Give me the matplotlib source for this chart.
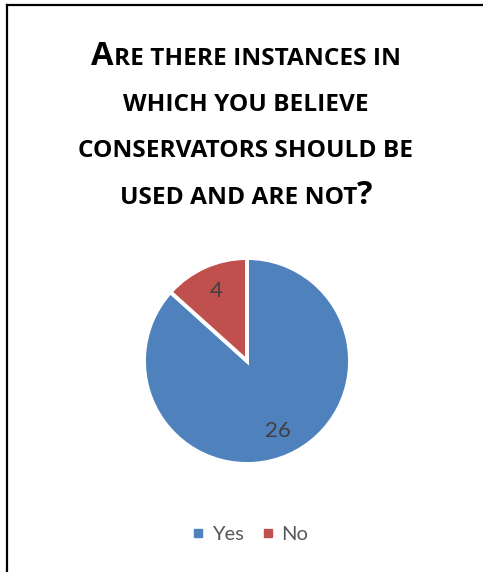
import matplotlib.pyplot as plt
from matplotlib.lines import Line2D

labels = ["Yes", "No"]
counts = [26, 4]
colors = ["#4F81BD", "#C0504D"]

# title in small caps: (text, is_full_size)
title_lines = [
    [("A", True), ("RE THERE INSTANCES IN", False)],
    [("WHICH YOU BELIEVE", False)],
    [("CONSERVATORS SHOULD BE", False)],
    [("USED AND ARE NOT", False), ("?", True)],
]
title_baselines = [65, 111, 157, 204]  # px from top

W, H = 483, 572
DPI = 100
fig = plt.figure(figsize=(W / DPI, H / DPI), dpi=DPI)
fig.patch.set_facecolor("white")

TITLE_FONT = "Open Sans"
FONT = "Lato"
BIG, SMALL = 23.5, 17.6

# outer frame (only left and top edges fall inside the image)
fig.add_artist(Line2D([7 / W, 7 / W], [0, 1 - 4.5 / H], color="black", lw=1.6,
                      transform=fig.transFigure))
fig.add_artist(Line2D([7 / W, 1], [1 - 4.5 / H, 1 - 4.5 / H], color="black", lw=1.6,
                      transform=fig.transFigure))

# title: place pieces side by side, centered
renderer = fig.canvas.get_renderer()
cx = 246
for pieces, base in zip(title_lines, title_baselines):
    texts = []
    for s, big in pieces:
        t = fig.text(0, 1 - base / H, s, fontsize=BIG if big else SMALL,
                     fontweight="bold", family=TITLE_FONT, color="black",
                     va="baseline", ha="left")
        texts.append(t)
    widths = [t.get_window_extent(renderer).width for t in texts]
    x = cx - sum(widths) / 2
    for t, w in zip(texts, widths):
        t.set_x(x / W)
        x += w

# pie
r = 103
pcx, pcy = 247, 361
ax = fig.add_axes([(pcx - r) / W, (H - pcy - r) / H, 2 * r / W, 2 * r / H])
wedges, texts = ax.pie(counts, colors=colors, startangle=90, counterclock=False,
                       labels=[str(c) for c in counts], labeldistance=0.74,
                       wedgeprops=dict(edgecolor="white", linewidth=2.8),
                       textprops=dict(fontsize=16, color="#404040", family=FONT,
                                      ha="center", va="center"))
ax.set_xlim(-1, 1)
ax.set_ylim(-1, 1)
ax.set_aspect("equal")
ax.axis("off")

handles = [Line2D([], [], marker="s", linestyle="", markersize=6, color=c) for c in colors]
fig.legend(handles, labels, loc="center", bbox_to_anchor=(250 / W, 1 - 534 / H),
           ncol=2, frameon=False, handlelength=0.6, handletextpad=0.35,
           columnspacing=0.9, labelcolor="#595959", prop=dict(family=FONT, size=14.5))

fig.savefig("out.png", dpi=DPI, facecolor="white")
